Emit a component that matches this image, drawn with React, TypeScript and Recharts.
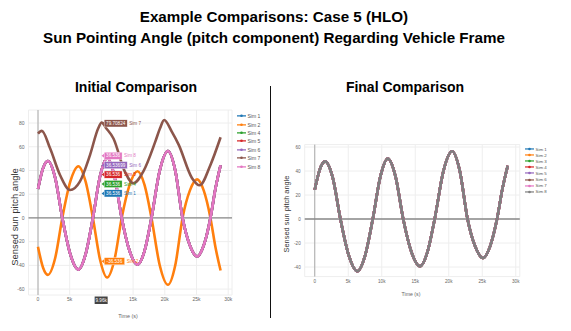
import {
  LineChart,
  Line,
  XAxis,
  YAxis,
  CartesianGrid,
  ReferenceLine,
  ReferenceDot,
} from 'recharts';

// sun pitch angle (deg), time in seconds
const pitchTimes = [0, 800, 1550, 2700, 3830, 5100, 6370, 7500, 8660, 9800, 10900, 12050, 13200, 14450, 15700, 16800, 17900, 19200, 20500, 21650, 22800, 23950, 25100, 26150, 27200, 28000, 28800];
const sim8Pitch = [24.4, 42, 48, 34, 0, -30.8, -43.6, -30.8, 0, 35.5, 50.3, 35.5, 0, -27.9, -39.4, -27.9, 0, 39.9, 56.4, 39.9, 0, -23, -32.5, -23, 0, 25, 44.4];
const sim2Pitch = [-24.4, -42, -48, -34, 0, 30.8, 43.6, 30.8, 0, -35.5, -50.3, -35.5, 0, 27.9, 39.4, 27.9, 0, -39.9, -56.4, -39.9, 0, 23, 32.5, 23, 0, -25, -44.4];

const sim7Times = [0, 600, 1900, 3470, 5050, 6600, 8200, 9500, 10050, 10700, 11900, 13700, 15050, 16600, 18500, 19250, 19900, 21100, 22200, 24300, 25500, 27200, 28800];
const sim7Pitch = [71, 73.4, 58.7, 36.2, 23.5, 30.6, 53, 75.6, 80.5, 76, 67, 39, 29.2, 39, 64.3, 75.6, 82.6, 72.8, 61.6, 33.5, 27.5, 44.7, 68];

const leftNames = ['Sim 1', 'Sim 2', 'Sim 4', 'Sim 5', 'Sim 6', 'Sim 7', 'Sim 8'];
const rightNames = ['Sim 1', 'Sim 2', 'Sim 3', 'Sim 4', 'Sim 5', 'Sim 6', 'Sim 7', 'Sim 8'];
const leftColors = ['#1f77b4', '#ff7f0e', '#2ca02c', '#d62728', '#9467bd', '#8c564b', '#e377c2'];
const rightColors = ['#1f77b4', '#ff7f0e', '#2ca02c', '#d62728', '#9467bd', '#8c564b', '#e377c2', '#7f7f7f'];

const xTicks = [0, 5000, 10000, 15000, 20000, 25000, 30000];
const leftYTicks = [-60, -40, -20, 0, 20, 40, 60, 80];
const rightYTicks = [-40, -20, 0, 20, 40, 60];

// hover readout on the initial comparison
const hoverTime = 9960;
const hoverTimeLabel = '9.96k';
const hoverNames = ['Sim 7', 'Sim 8', 'Sim 6', 'Sim 5', 'Sim 4', 'Sim 1', 'Sim 2'];
const hoverValues = [79.70824, 36.536, 36.53699, 36.536, 36.536, 36.536, -36.536];
const hoverTexts = ['79.70824', '36.536', '36.53699', '36.536', '36.536', '36.536', '-36.536'];

const pitchPoints = pitchTimes.map((t, i) => ({ t, v: sim8Pitch[i] }));
const sim2Points = pitchTimes.map((t, i) => ({ t, v: sim2Pitch[i] }));
const sim7Points = sim7Times.map((t, i) => ({ t, v: sim7Pitch[i] }));

const leftData: Record<string, { t: number; v: number }[]> = {
  'Sim 2': sim2Points,
  'Sim 7': sim7Points,
};

const FONT = '"Liberation Sans", Arial, sans-serif';
const fmtK = (v: number) => (v === 0 ? '0' : `${v / 1000}k`);
// the spike label on the x axis covers the nearest tick
const fmtKLeft = (v: number) => (Math.abs(v - hoverTime) < 2500 ? '' : fmtK(v));

const HOVER_STEP = 9.4;

function hoverOffset(i: number) {
  const key = Math.round(hoverValues[i]);
  const group = hoverValues.map((v, j) => j).filter((j) => Math.round(hoverValues[j]) === key);
  const pos = group.indexOf(i);
  return (pos - (group.length - 1) / 2) * HOVER_STEP;
}

function HoverLabel(props: any, i: number) {
  const { cx, cy } = props;
  if (cx == null || cy == null) return <g />;
  const color = leftColors[leftNames.indexOf(hoverNames[i])];
  const y = cy + hoverOffset(i);
  const fs = 4.6;
  const w = hoverTexts[i].length * fs * 0.56 + 2.5;
  const x0 = cx + 3;
  return (
    <g>
      <path d={`M${cx + 0.5},${y} L${x0},${y - 2} L${x0},${y + 2} Z`} fill={color} />
      <rect x={x0} y={y - 3.6} width={w} height={7.2} fill={color} stroke="#fff" strokeWidth={0.4} />
      <text x={x0 + w / 2} y={y + 1.6} fontSize={fs} fill="#fff" textAnchor="middle" fontFamily={FONT}>
        {hoverTexts[i]}
      </text>
      <text x={x0 + w + 2} y={y + 1.6} fontSize={fs} fill={color} fontFamily={FONT}>
        {hoverNames[i]}
      </text>
    </g>
  );
}

function AxisHover(props: any) {
  const { cx, cy } = props;
  if (cx == null || cy == null) return <g />;
  const w = 13;
  return (
    <g>
      <rect x={cx - w / 2} y={cy + 1.5} width={w} height={7.5} fill="#444" />
      <text x={cx} y={cy + 7} fontSize={4.6} fill="#fff" textAnchor="middle" fontFamily={FONT}>
        {hoverTimeLabel}
      </text>
    </g>
  );
}

function LegendBox({ names, colors, left, top, step, fontSize }: { names: string[]; colors: string[]; left: number; top: number; step: number; fontSize: number }) {
  return (
    <div style={{ position: 'absolute', left, top, fontFamily: FONT, fontSize, color: '#555' }}>
      {names.map((n, i) => (
        <div key={n} style={{ position: 'absolute', top: i * step, left: 0, display: 'flex', alignItems: 'center', height: step, whiteSpace: 'nowrap', transform: 'translateY(-50%)' }}>
          <svg width={9} height={4} style={{ marginRight: 1.5 }}>
            <line x1={0} y1={2} x2={9} y2={2} stroke={colors[i]} strokeWidth={1.2} />
            <circle cx={4.5} cy={2} r={1.3} fill={colors[i]} />
          </svg>
          <span>{n}</span>
        </div>
      ))}
    </div>
  );
}

const tickStyle = (fs: number) => ({ fontSize: fs, fill: '#666', fontFamily: FONT });
const headStyle = { position: 'absolute' as const, textAlign: 'center' as const, fontWeight: 'bold' as const, fontFamily: FONT, color: '#000', whiteSpace: 'nowrap' as const };

export default function App() {
  return (
    <div style={{ position: 'fixed', left: 0, top: 0, width: 571, height: 331, background: '#fff', overflow: 'hidden', fontFamily: FONT }}>
      {/* titles */}
      <div style={{ ...headStyle, left: 0, width: 548, top: 6, fontSize: 15.2, lineHeight: '21px' }}>
        <div>Example Comparisons: Case 5 (HLO)</div>
        <div>Sun Pointing Angle (pitch component) Regarding Vehicle Frame</div>
      </div>
      <div style={{ ...headStyle, left: 36, width: 200, top: 78, fontSize: 14, lineHeight: '18px' }}>
        Initial Comparison
      </div>
      <div style={{ ...headStyle, left: 305, width: 200, top: 78, fontSize: 14, lineHeight: '18px' }}>
        Final Comparison
      </div>
      <div style={{ position: 'absolute', left: 269.5, top: 86, width: 1.5, height: 232, background: '#111' }} />

      {/* initial comparison */}
      <div style={{ position: 'absolute', left: 0, top: 0 }}>
        <LineChart width={290} height={331} margin={{ top: 110, right: 58, bottom: 0, left: 0 }}>
          <CartesianGrid stroke="#eeeeee" />
          <XAxis dataKey="t" type="number" domain={[-1500, 30600]} ticks={xTicks} tickFormatter={fmtKLeft} axisLine={false} tickLine={false} tickSize={0} tickMargin={2} height={36} tick={tickStyle(5)} allowDataOverflow />
          <YAxis type="number" domain={[-65, 91]} ticks={leftYTicks} width={28.5} axisLine={false} tickLine={false} tickSize={0} tickMargin={4} tick={tickStyle(5)} allowDataOverflow />
          <ReferenceLine x={0} stroke="#aaaaaa" strokeWidth={1} />
          <ReferenceLine y={0} stroke="#888888" strokeWidth={1.4} />
          {leftNames.map((n, i) => (
            <Line key={n} data={leftData[n] ?? pitchPoints} dataKey="v" type="monotone" stroke={leftColors[i]} strokeWidth={2.6} dot={false} isAnimationActive={false} />
          ))}
          {hoverNames.map((n, i) => (
            <ReferenceDot key={n} x={hoverTime} y={hoverValues[i]} ifOverflow="visible" shape={(p: any) => HoverLabel(p, i)} />
          ))}
          <ReferenceDot x={hoverTime} y={-65} ifOverflow="visible" shape={AxisHover} />
        </LineChart>
      </div>
      <div style={{ position: 'absolute', left: 14, top: 217, transform: 'translate(-50%, -50%) rotate(-90deg)', fontSize: 9.4, color: '#333', whiteSpace: 'nowrap' }}>
        Sensed sun pitch angle
      </div>
      <div style={{ position: 'absolute', left: 128, top: 316, transform: 'translate(-50%, -50%)', fontSize: 5.4, color: '#666', whiteSpace: 'nowrap' }}>
        Time (s)
      </div>
      <LegendBox names={leftNames} colors={leftColors} left={237} top={116} step={8.4} fontSize={5} />

      {/* final comparison */}
      <div style={{ position: 'absolute', left: 272, top: 0 }}>
        <LineChart width={299} height={331} margin={{ top: 144.6, right: 51.2, bottom: 0, left: 0 }}>
          <CartesianGrid stroke="#eeeeee" />
          <XAxis dataKey="t" type="number" domain={[-1500, 30600]} ticks={xTicks} tickFormatter={fmtK} axisLine={false} tickLine={false} tickSize={0} tickMargin={3} height={54.4} tick={tickStyle(4.6)} allowDataOverflow />
          <YAxis type="number" domain={[-48, 62]} ticks={rightYTicks} width={32.7} axisLine={false} tickLine={false} tickSize={0} tickMargin={4} tick={tickStyle(4.6)} allowDataOverflow />
          <ReferenceLine x={0} stroke="#aaaaaa" strokeWidth={1} />
          <ReferenceLine y={0} stroke="#888888" strokeWidth={1.4} />
          {rightNames.map((n, i) => (
            <Line key={n} data={pitchPoints} dataKey="v" type="monotone" stroke={rightColors[i]} strokeWidth={2.6} dot={false} isAnimationActive={false} />
          ))}
        </LineChart>
      </div>
      <div style={{ position: 'absolute', left: 286, top: 214, transform: 'translate(-50%, -50%) rotate(-90deg)', fontSize: 7.4, color: '#333', whiteSpace: 'nowrap' }}>
        Sensed sun pitch angle
      </div>
      <div style={{ position: 'absolute', left: 411, top: 294, transform: 'translate(-50%, -50%)', fontSize: 5.2, color: '#666', whiteSpace: 'nowrap' }}>
        Time (s)
      </div>
      <LegendBox names={rightNames} colors={rightColors} left={525} top={149} step={6.1} fontSize={4.4} />
    </div>
  );
}
